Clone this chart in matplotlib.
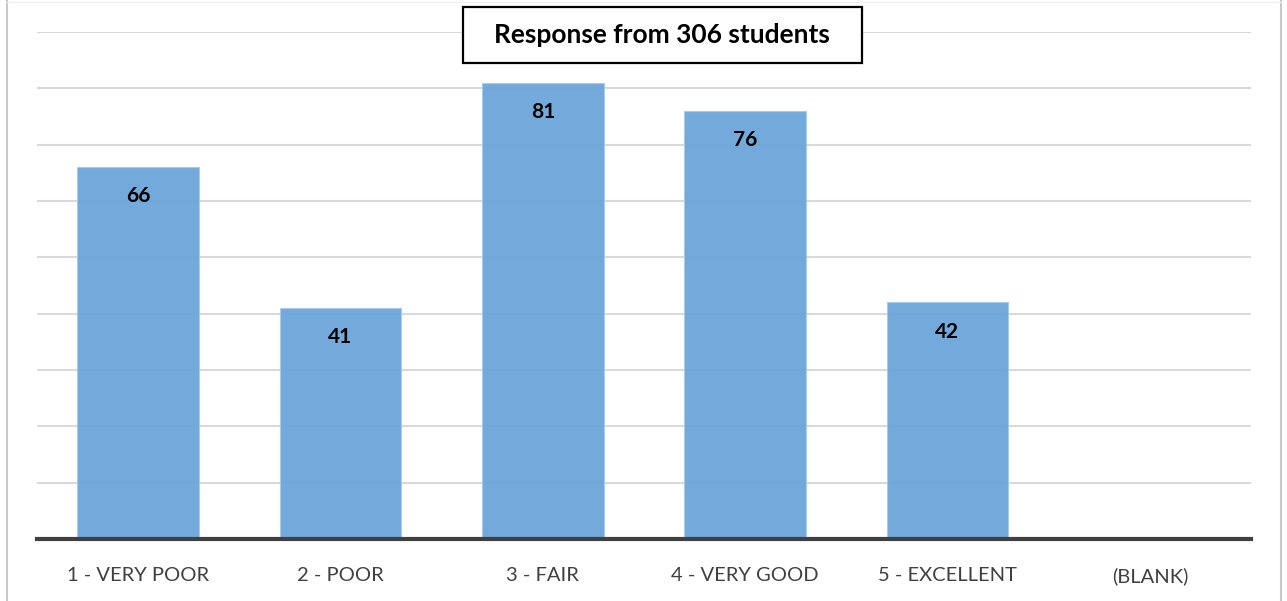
import matplotlib.pyplot as plt
from matplotlib.patches import Rectangle

categories = ['1 - VERY POOR', '2 - POOR', '3 - FAIR', '4 - VERY GOOD', '5 - EXCELLENT', '(BLANK)']
counts = [66, 41, 81, 76, 42, 0]
title = 'Response from 306 students'

plt.rcParams['font.family'] = ['Lato', 'DejaVu Sans']

fig = plt.figure(figsize=(12.87, 6.01), dpi=100)
ax = fig.add_axes([37 / 1287, 1 - 539 / 601, (1251 - 37) / 1287, (539 - 32) / 601])

x = list(range(len(categories)))
ax.set_axisbelow(True)
ax.yaxis.grid(True, color='#d9d9d9', linewidth=1.5)
bars = ax.bar(x, counts, width=0.6, color='#6fa7da', edgecolor='#a9cbea', linewidth=0.8, alpha=0.97)

for xi, v in zip(x, counts):
    if v > 0:
        ax.text(xi, v - 5.2, str(v), ha='center', va='center', fontsize=15,
                fontweight='bold', color='black')

ax.set_xlim(-0.5, 5.5)
ax.set_ylim(0, 90)
ax.set_yticks(range(0, 91, 10))
ax.set_xticks(x)
ax.set_xticklabels(categories, fontsize=14.5, color='#404040')
ax.tick_params(axis='x', length=0, pad=20)
ax.tick_params(axis='y', length=0, labelleft=False)
for side in ['top', 'right', 'left']:
    ax.spines[side].set_visible(False)
ax.spines['bottom'].set_color('#404040')
ax.spines['bottom'].set_linewidth(3)

# chart title in a boxed frame
fig.patches.append(Rectangle((463 / 1287, 1 - 63 / 601), (862 - 463) / 1287, 56 / 601,
                             transform=fig.transFigure, facecolor='white',
                             edgecolor='black', linewidth=1.6, zorder=5))
fig.text(662 / 1287, 1 - 35 / 601, title, ha='center', va='center', fontsize=19,
         fontweight='bold', color='black', zorder=6)

# outer chart border
fig.add_artist(plt.Line2D([7 / 1287, 7 / 1287], [0, 1], color='#c8c8c8', linewidth=1.5))
fig.add_artist(plt.Line2D([1281 / 1287, 1281 / 1287], [0, 1], color='#c8c8c8', linewidth=1.5))
fig.add_artist(plt.Line2D([7 / 1287, 1281 / 1287], [1 - 2 / 601, 1 - 2 / 601], color='#f0f0f0', linewidth=1))

fig.savefig('out.png', dpi=100)
